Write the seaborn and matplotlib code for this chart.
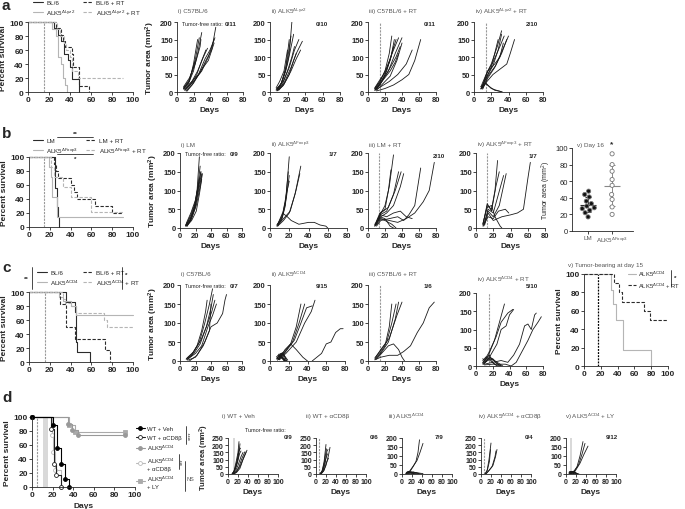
import pandas as pd
import matplotlib.pyplot as plt
from matplotlib.lines import Line2D
import seaborn as sns

# ---------------- survival curves (day, % survival) ----------------
a_bl6_t = [0, 25, 29, 31, 34, 38, 40, 42, 49]
a_bl6_s = [100, 91, 82, 73, 55, 46, 36, 18, 0]
a_alk_t = [0, 23, 27, 29, 31, 33, 35, 37]
a_alk_s = [100, 90, 80, 50, 40, 20, 10, 0]
a_bl6rt_t = [0, 27, 31, 33, 35, 42, 43, 49, 58]
a_bl6rt_s = [100, 91, 82, 73, 64, 55, 36, 9, 0]
a_alkrt_t = [0, 28, 30, 34, 36, 40, 42, 48, 90]
a_alkrt_s = [100, 90, 80, 70, 60, 50, 30, 20, 20]

b_lm_t = [0, 25, 27, 28, 29]
b_lm_s = [100, 56, 28, 14, 0]
b_alk_t = [0, 19, 21, 22, 27, 90]
b_alk_s = [100, 86, 71, 43, 14, 14]
b_lmrt_t = [0, 24, 26, 28, 40, 43, 46, 63, 80, 90]
b_lmrt_s = [100, 90, 80, 70, 60, 50, 40, 30, 20, 20]
b_alkrt_t = [0, 21, 24, 33, 40, 60, 90]
b_alkrt_s = [100, 86, 71, 57, 43, 22, 22]

c_bl6_t = [0, 36, 44, 45, 46, 59]
c_bl6_s = [100, 86, 71, 29, 14, 0]
c_alk_t = [0, 29, 33, 40, 45, 100]
c_alk_s = [100, 93, 87, 80, 67, 67]
c_bl6rt_t = [0, 30, 36, 44, 73, 78]
c_bl6rt_s = [100, 83, 50, 33, 17, 0]
c_alkrt_t = [0, 33, 35, 40, 45, 72, 75, 100]
c_alkrt_s = [100, 90, 85, 80, 70, 60, 50, 50]

cv_alk_t = [0, 32, 35, 38, 47, 80]
cv_alk_s = [100, 83, 67, 50, 17, 0]
cv_alkrt_t = [0, 36, 42, 45, 72, 78, 100]
cv_alkrt_s = [100, 90, 80, 70, 60, 50, 50]

d_veh_t = [0, 20, 24, 28, 32, 36]
d_veh_s = [100, 89, 56, 33, 11, 0]
d_cd8_t = [0, 18, 21, 23, 28]
d_cd8_s = [100, 83, 33, 17, 0]
d_alk_t = [0, 35, 39, 45, 90]
d_alk_s = [100, 90, 82, 75, 75]
d_alkcd8_t = [0, 19, 20, 22, 28]
d_alkcd8_s = [100, 75, 50, 25, 0]
d_ly_t = [0, 36, 42, 90]
d_ly_s = [100, 89, 78, 78]

# ---------------- tumour growth curves, one list of (day, mm2) per mouse ----------------
a1_curves = [
    [(8, 10), (15, 30), (20, 80), (25, 150)],
    [(8, 12), (15, 35), (22, 90), (27, 155)],
    [(8, 8), (14, 25), (20, 60), (25, 110), (30, 170)],
    [(8, 15), (15, 40), (22, 80), (28, 130), (29, 150)],
    [(9, 5), (16, 20), (24, 50), (30, 90), (35, 120)],
    [(9, 8), (18, 30), (25, 60), (32, 100), (37, 125)],
    [(10, 5), (20, 30), (30, 60), (38, 100), (45, 150)],
    [(10, 8), (20, 35), (28, 55), (35, 90), (42, 120), (47, 185)],
    [(11, 3), (18, 20), (26, 50), (34, 95), (40, 120), (46, 155)],
    [(12, 2), (20, 25), (30, 65), (38, 90), (45, 140)],
    [(8, 10), (14, 28), (20, 70), (22, 90)],
]
a2_curves = [
    [(7, 8), (12, 20), (18, 60), (22, 110), (25, 200)],
    [(7, 5), (12, 18), (17, 55), (21, 110), (24, 160)],
    [(8, 10), (13, 25), (18, 70), (22, 150)],
    [(8, 6), (14, 30), (20, 80), (25, 140), (27, 165)],
    [(8, 4), (14, 20), (20, 60), (25, 100), (28, 130)],
    [(9, 8), (15, 30), (22, 70), (28, 120), (33, 150)],
    [(9, 5), (16, 25), (24, 70), (30, 110), (37, 145)],
    [(7, 12), (11, 30), (16, 60), (20, 120)],
    [(8, 3), (15, 18), (22, 50), (27, 90), (30, 110)],
    [(10, 5), (16, 22), (24, 60), (30, 95), (35, 120)],
]
a3_curves = [
    [(8, 10), (14, 30), (20, 60), (25, 110), (28, 160)],
    [(8, 8), (14, 25), (20, 50), (27, 100), (31, 150)],
    [(8, 5), (14, 20), (22, 60), (28, 110), (33, 150)],
    [(8, 10), (14, 30), (22, 70), (30, 120), (36, 155)],
    [(9, 6), (15, 25), (24, 60), (32, 110), (40, 155)],
    [(9, 8), (16, 30), (25, 65), (33, 100), (38, 130)],
    [(10, 5), (16, 20), (26, 45), (34, 90), (40, 140)],
    [(10, 10), (18, 35), (26, 60), (32, 85), (36, 110)],
    [(8, 5), (15, 15), (25, 30), (35, 50), (45, 80), (52, 120)],
    [(10, 3), (20, 10), (30, 20), (40, 35), (48, 50), (55, 90), (62, 150)],
    [(8, 12), (14, 35), (20, 55), (26, 90), (30, 130)],
]
a4_curves = [
    [(8, 10), (14, 40), (20, 70), (25, 120), (28, 150)],
    [(8, 15), (14, 50), (20, 80), (27, 130), (32, 175)],
    [(9, 10), (15, 45), (22, 75), (28, 120), (32, 165)],
    [(9, 12), (15, 55), (22, 85), (30, 130), (35, 160)],
    [(10, 8), (16, 40), (24, 70), (32, 110), (38, 150)],
    [(10, 10), (16, 45), (25, 75), (33, 120), (40, 160)],
    [(8, 8), (15, 30), (22, 50), (30, 65), (38, 80), (42, 110), (47, 150)],
    [(9, 12), (16, 60), (24, 80), (30, 100), (34, 140)],
    [(8, 10), (14, 25), (20, 10), (26, 5), (33, 0)],
    [(8, 15), (13, 25), (18, 15), (24, 5), (30, 2), (32, 0)],
]
b1_curves = [
    [(7, 5), (12, 15), (18, 50), (22, 100), (25, 190)],
    [(7, 8), (13, 20), (19, 55), (23, 110), (26, 165)],
    [(8, 5), (14, 20), (20, 60), (24, 115), (27, 150)],
    [(8, 10), (14, 30), (20, 65), (25, 120), (28, 145)],
    [(7, 6), (13, 22), (19, 50), (24, 100), (28, 140)],
    [(8, 8), (14, 35), (20, 70), (25, 130), (27, 150)],
    [(9, 4), (15, 25), (21, 60), (26, 110), (29, 145)],
    [(8, 12), (14, 40), (20, 75), (24, 120)],
    [(9, 6), (15, 20), (21, 45), (25, 90), (28, 130)],
]
b2_curves = [
    [(7, 5), (12, 20), (16, 60), (20, 190)],
    [(7, 8), (12, 25), (16, 70), (19, 150)],
    [(8, 5), (13, 30), (17, 80), (20, 140)],
    [(8, 10), (13, 35), (17, 90), (20, 125)],
    [(8, 5), (14, 20), (20, 40), (26, 90), (32, 165)],
    [(8, 8), (14, 25), (21, 45), (27, 100), (31, 145)],
    [(8, 10), (13, 40), (18, 30), (22, 20), (30, 10), (40, 15), (46, 15), (52, 8), (58, 5), (60, 0)],
]
b3_curves = [
    [(8, 5), (13, 30), (20, 60), (25, 110), (30, 195)],
    [(8, 8), (14, 40), (20, 50), (24, 100), (27, 155)],
    [(8, 5), (14, 35), (22, 45), (30, 90), (36, 150)],
    [(9, 10), (15, 40), (24, 55), (32, 100), (39, 150)],
    [(9, 8), (15, 30), (22, 40), (30, 60), (38, 110), (42, 145)],
    [(8, 10), (14, 25), (20, 20), (28, 10), (33, 0)],
    [(9, 6), (14, 30), (20, 25), (26, 5), (30, 0)],
    [(10, 5), (15, 20), (25, 25), (35, 30), (42, 20), (48, 35), (55, 60), (62, 160)],
    [(10, 8), (15, 25), (25, 20), (35, 15), (45, 25), (55, 40), (65, 70), (72, 100), (78, 175)],
    [(9, 10), (15, 35), (22, 30), (30, 40), (38, 45), (45, 30), (52, 25)],
]
b4_curves = [
    [(8, 10), (13, 60), (18, 50), (22, 100), (25, 180)],
    [(8, 8), (13, 65), (18, 45), (23, 110), (27, 150)],
    [(9, 5), (14, 50), (20, 40), (26, 90), (32, 140)],
    [(9, 10), (14, 45), (20, 30), (27, 60), (35, 145)],
    [(8, 12), (13, 55), (18, 60), (22, 30), (28, 5), (30, 0)],
    [(10, 8), (14, 40), (20, 20), (30, 30), (40, 35), (48, 40), (55, 50), (60, 130), (63, 175)],
    [(8, 5), (14, 30), (20, 25), (26, 45), (34, 50), (38, 40)],
]
c1_curves = [
    [(8, 5), (15, 15), (22, 40), (28, 80), (33, 130), (35, 160)],
    [(8, 5), (16, 20), (25, 50), (32, 100), (38, 150), (42, 190)],
    [(9, 3), (18, 20), (26, 45), (34, 90), (40, 140), (43, 175)],
    [(9, 8), (18, 25), (27, 55), (35, 95), (41, 130), (45, 160)],
    [(10, 5), (20, 20), (28, 40), (36, 90), (42, 120), (47, 150)],
    [(10, 2), (20, 10), (30, 40), (38, 80), (40, 150)],
    [(12, 0), (22, 15), (32, 50), (40, 90), (48, 100), (55, 125), (58, 160), (60, 175)],
]
c2_curves = [
    [(8, 5), (15, 20), (22, 45), (28, 90), (33, 150)],
    [(8, 8), (15, 25), (24, 50), (31, 100), (37, 150)],
    [(9, 6), (16, 22), (26, 55), (33, 100), (39, 140), (45, 145)],
    [(9, 4), (17, 20), (28, 50), (37, 100), (44, 130), (48, 160)],
    [(10, 5), (16, 30), (22, 45), (28, 30), (35, 10), (40, 0)],
    [(45, 0), (50, 10), (55, 20), (60, 45), (65, 50), (70, 75), (75, 85), (78, 85)],
    [(7, 5), (10, 15), (13, 10), (16, 0)],
    [(8, 10), (11, 20), (14, 5), (17, 0)],
    [(7, 8), (10, 5), (13, 18), (16, 3)],
    [(8, 15), (12, 10), (15, 0)],
    [(9, 5), (12, 20), (15, 15), (18, 0)],
    [(7, 12), (10, 3), (13, 10), (16, 0)],
    [(8, 2), (11, 12), (14, 20), (17, 5)],
    [(9, 18), (12, 8), (15, 5), (18, 0)],
    [(10, 10), (13, 22), (16, 12), (19, 2)],
]
c3_curves = [
    [(8, 5), (14, 20), (20, 40), (25, 90), (28, 150)],
    [(8, 8), (14, 25), (22, 50), (28, 100), (33, 150)],
    [(9, 5), (15, 20), (24, 50), (32, 110), (36, 155)],
    [(9, 10), (15, 30), (25, 60), (34, 120), (40, 155)],
    [(10, 5), (16, 20), (24, 40), (30, 45), (36, 30), (40, 10), (43, 0)],
    [(8, 3), (15, 10), (25, 15), (35, 15), (42, 25), (50, 40), (58, 75), (65, 100), (72, 140), (78, 155)],
]
c4_curves = [
    [(8, 5), (15, 30), (22, 70), (28, 120), (34, 170)],
    [(8, 8), (15, 35), (24, 80), (30, 120), (38, 145), (44, 155)],
    [(9, 5), (15, 20), (25, 60), (30, 100), (36, 110), (40, 140), (45, 155)],
    [(10, 5), (20, 10), (30, 15), (38, 10), (45, 30), (52, 60), (58, 110), (62, 115), (66, 100), (70, 140), (72, 145)],
    [(10, 3), (20, 5), (35, 5), (42, 0), (48, 10), (55, 40), (62, 70), (68, 100), (74, 120), (78, 135)],
    [(8, 10), (12, 20), (16, 30), (20, 10), (25, 0)],
    [(8, 15), (12, 25), (17, 15), (22, 5), (28, 0)],
    [(9, 5), (13, 18), (18, 22), (24, 8), (30, 0)],
    [(8, 20), (12, 12), (16, 25), (22, 15), (32, 0)],
    [(10, 8), (14, 15), (20, 20), (26, 5), (30, 0)],
]
d1_curves = [
    [(8, 0), (12, 20), (16, 80), (20, 150), (22, 225)],
    [(8, 0), (12, 15), (17, 60), (21, 120), (24, 210)],
    [(9, 0), (13, 25), (18, 90), (22, 160), (25, 180)],
    [(9, 2), (14, 30), (19, 80), (23, 140), (26, 160)],
    [(10, 0), (15, 20), (20, 60), (26, 120), (30, 150)],
    [(10, 0), (16, 15), (22, 50), (28, 110), (34, 155)],
    [(11, 0), (17, 10), (24, 40), (30, 100), (38, 165)],
    [(10, 5), (15, 40), (19, 100), (22, 175)],
    [(12, 0), (18, 20), (25, 60), (32, 120), (36, 150)],
]
d2_curves = [
    [(8, 0), (12, 20), (16, 80), (20, 205)],
    [(8, 0), (13, 25), (17, 90), (21, 175)],
    [(9, 0), (14, 20), (18, 70), (22, 160), (24, 170)],
    [(9, 0), (14, 30), (19, 100), (23, 140)],
    [(10, 0), (15, 20), (20, 60), (25, 130), (28, 185)],
    [(10, 0), (16, 25), (21, 80), (25, 110)],
]
d3_curves = [
    [(8, 0), (15, 10), (22, 40), (28, 70), (32, 120), (35, 190)],
    [(8, 0), (15, 15), (24, 50), (30, 75), (36, 120), (42, 170)],
    [(8, 5), (12, 10), (16, 5), (22, 0)],
    [(8, 2), (14, 12), (20, 8), (26, 3), (30, 0)],
    [(10, 8), (15, 15), (20, 5), (25, 0)],
    [(9, 10), (14, 5), (19, 12), (24, 2)],
    [(8, 3), (12, 15), (18, 10), (24, 5), (28, 8), (35, 5), (42, 2)],
    [(10, 5), (16, 8), (22, 12), (28, 6), (34, 3)],
    [(12, 2), (18, 6), (24, 10), (30, 4), (38, 0)],
]
d4_curves = [
    [(8, 0), (12, 20), (16, 100), (20, 215)],
    [(8, 0), (13, 30), (17, 90), (19, 170)],
    [(9, 0), (15, 20), (22, 50), (28, 120), (30, 160)],
    [(10, 0), (16, 25), (24, 60), (29, 120), (32, 170)],
]
d5_curves = [
    [(8, 0), (15, 10), (22, 40), (28, 100), (34, 180)],
    [(8, 2), (16, 15), (25, 50), (32, 110), (38, 170)],
    [(9, 0), (18, 15), (28, 60), (36, 110), (44, 155)],
    [(6, 5), (9, 12), (12, 8), (15, 2)],
    [(6, 10), (9, 5), (12, 15), (16, 0)],
    [(7, 8), (10, 15), (13, 5), (18, 0)],
    [(7, 3), (10, 10), (14, 12), (20, 2)],
    [(8, 12), (11, 6), (15, 10), (20, 5), (24, 0)],
    [(6, 2), (10, 8), (14, 4), (17, 0)],
    [(8, 6), (12, 14), (16, 6), (22, 3), (26, 0)],
    [(9, 4), (13, 9), (17, 12), (21, 4)],
    [(7, 14), (11, 10), (15, 16), (19, 6), (23, 0)],
]

# day-16 tumour size, panel b v
day16_lm = [48, 44, 41, 36, 33, 30, 28, 27, 25, 22, 17]
day16_alk = [93, 80, 72, 62, 55, 44, 38, 29, 20]

# ---------------- style ----------------
sns.set_style("ticks")
plt.rcParams['font.family'] = ['Liberation Sans', 'DejaVu Sans']
plt.rcParams['mathtext.default'] = 'regular'
plt.rcParams['axes.linewidth'] = 0.6
plt.rcParams['xtick.major.width'] = 0.6
plt.rcParams['ytick.major.width'] = 0.6

DARK = '#2b2b2b'
LIGHT = '#b5b5b5'
GREYTXT = '#555555'
DASH = (0, (3, 1.5))

W, H = 685, 510
fig = plt.figure(figsize=(6.85, 5.10), dpi=100)


def add_ax(x0, y0, x1, y1):
    return fig.add_axes([x0 / W, 1 - y1 / H, (x1 - x0) / W, (y1 - y0) / H])


def ftext(x, y, s, **kw):
    kw.setdefault('va', 'center')
    kw.setdefault('fontsize', 4.5)
    fig.text(x / W, 1 - y / H, s, **kw)


def fline(xs, ys, **kw):
    fig.add_artist(Line2D([x / W for x in xs], [1 - y / H for y in ys],
                          transform=fig.transFigure, color='k', lw=0.5, **kw))


def style(ax, xticks, yticks, fs=5.5):
    ax.set_xticks(xticks)
    ax.set_yticks(yticks)
    ax.set_xlim(xticks[0], xticks[-1])
    ax.set_ylim(yticks[0], yticks[-1])
    sns.despine(ax=ax)
    ax.tick_params(labelsize=fs, length=2, pad=1)
    for t in ax.get_xticklabels() + ax.get_yticklabels():
        t.set_fontweight('bold')
    ax.set_xlabel('')
    ax.set_ylabel('')


def km(ax, t, s, color, ls='-', label=None, **kw):
    sns.lineplot(x=t, y=s, drawstyle='steps-post', color=color, linestyle=ls,
                 lw=0.8, ax=ax, label=label, estimator=None, clip_on=False, **kw)


def spaghetti(ax, curves):
    rows = [(i, d, a) for i, c in enumerate(curves) for d, a in c]
    df = pd.DataFrame(rows, columns=['mouse', 'day', 'area'])
    sns.lineplot(data=df, x='day', y='area', units='mouse', estimator=None,
                 sort=False, color='#1a1a1a', lw=0.6, ax=ax, legend=False)


def tumour(box, curves, title, ratio, ratio_xy, title_xy, rt=None, band=None,
           xt=(0, 20, 40, 60, 80), yt=(0, 50, 100, 150, 200), fs=5.5, ylab=False,
           ylab_fs=6, ylab_pad=2):
    ax = add_ax(*box)
    if band is not None:
        ax.axvspan(band[0], band[1], color='#d9d9d9', lw=0)
    if rt is not None:
        ax.axvline(rt, color='#999999', ls=(0, (2, 1)), lw=0.8)
    spaghetti(ax, curves)
    style(ax, list(xt), list(yt), fs)
    ax.set_xlabel('Days', fontsize=6, fontweight='bold', labelpad=2)
    if ylab:
        ax.set_ylabel('Tumor area (mm$^2$)', fontsize=ylab_fs, fontweight='bold', labelpad=ylab_pad)
    ftext(title_xy[0], title_xy[1], title, color=GREYTXT, ha='left')
    ftext(ratio_xy[0], ratio_xy[1], ratio, fontweight='bold', ha='right')
    return ax


def surv_legend(ax, handles, labels, x, y, colsp=1.2):
    ax.legend(handles, labels, ncol=2, loc='upper left', bbox_to_anchor=(x / W, 1 - y / H),
              bbox_transform=fig.transFigure, frameon=False, fontsize=4.5,
              handlelength=1.6, columnspacing=colsp, labelspacing=0.35, borderaxespad=0,
              handletextpad=0.5, borderpad=0)


# ================= row a =================
ax = add_ax(28, 23, 133, 93)
ax.axvline(15, color='#999999', ls=(0, (2, 1)), lw=0.8)
km(ax, a_bl6_t, a_bl6_s, DARK, '-', 'BL/6')
km(ax, a_alk_t, a_alk_s, LIGHT, '-', 'ALK5$^{ΔLyz2}$')
km(ax, a_bl6rt_t, a_bl6rt_s, DARK, DASH, 'BL/6 + RT')
km(ax, a_alkrt_t, a_alkrt_s, LIGHT, DASH, 'ALK5$^{ΔLyz2}$ + RT')
style(ax, [0, 20, 40, 60, 80, 100], [0, 20, 40, 60, 80, 100], 6)
ax.set_ylabel('Percent survival', fontsize=6, fontweight='bold', labelpad=2)
h, l = ax.get_legend_handles_labels()
surv_legend(ax, h, l, 33, 1)

lyz = 'ALK5$^{ΔLyz2}$'
tumour((177, 23, 243, 93), a1_curves, 'i) C57BL/6', '0/11', (237, 24), (178, 12), ylab=True)
ftext(182, 24, 'Tumor-free ratio:', ha='left', fontsize=4)
tumour((270, 23, 340, 93), a2_curves, 'ii) ' + lyz, '0/10', (328, 24), (271, 12))
tumour((368, 23, 436, 93), a3_curves, 'iii) C57BL/6 + RT', '0/11', (436, 24), (369, 12), rt=14)
tumour((474, 23, 543, 93), a4_curves, 'iv) ' + lyz + ' + RT', '2/10', (538, 24), (475, 12), rt=14)

# ================= row b =================
fox = 'ALK5$^{ΔFoxp3}$'
ax = add_ax(29, 158, 133, 228)
ax.axvline(14, color='#999999', ls=(0, (2, 1)), lw=0.8)
km(ax, b_lm_t, b_lm_s, DARK, '-', 'LM')
km(ax, b_alk_t, b_alk_s, LIGHT, '-', fox)
km(ax, b_lmrt_t, b_lmrt_s, DARK, DASH, 'LM + RT')
km(ax, b_alkrt_t, b_alkrt_s, LIGHT, DASH, fox + ' + RT')
style(ax, [0, 20, 40, 60, 80, 100], [0, 20, 40, 60, 80, 100], 6)
ax.set_ylabel('Percent survival', fontsize=6, fontweight='bold', labelpad=2)
h, l = ax.get_legend_handles_labels()
surv_legend(ax, h, l, 33, 139)
fline([57, 93], [138, 138])
ftext(75, 134, '**', ha='center', fontweight='bold')
fline([57, 93], [155, 155])
ftext(75, 159, '*', ha='center', fontweight='bold')

tumour((180, 154, 242, 229), b1_curves, 'i) LM', '0/9', (238, 155), (181, 145), ylab=True)
ftext(185, 155, 'Tumor-free ratio:', ha='left', fontsize=4)
tumour((270, 154, 347, 229), b2_curves, 'ii) ' + fox, '1/7', (337, 155), (271, 145))
tumour((368, 154, 436, 229), b3_curves, 'iii) LM + RT', '2/10', (445, 157), (369, 145), rt=13)
tumour((476, 154, 545, 229), b4_curves, 'iv) ' + fox + ' + RT', '1/7', (537, 157), (477, 145), rt=13)

# b v: day 16 scatter
ax = add_ax(572, 149, 633, 232)
df16 = pd.DataFrame({'grp': ['LM'] * len(day16_lm) + ['ALK5'] * len(day16_alk),
                     'area': day16_lm + day16_alk})
sns.swarmplot(data=df16, x='grp', y='area', hue='grp', order=['LM', 'ALK5'],
              palette={'LM': '#111111', 'ALK5': 'white'}, edgecolor='#777777',
              linewidth=0.6, size=3, ax=ax, legend=False)
for i, vals in enumerate([day16_lm, day16_alk]):
    s = pd.Series(vals)
    m, sd = s.mean(), s.std()
    ax.hlines(m, i - 0.32, i + 0.32, color=DARK if i == 0 else '#888888', lw=0.8)
    ax.errorbar(i, m, yerr=sd, color=DARK if i == 0 else '#888888', lw=0.7, capsize=2, capthick=0.7)
ax.set_yticks([0, 20, 40, 60, 80, 100])
ax.set_ylim(0, 100)
ax.set_xlim(-0.67, 1.87)
sns.despine(ax=ax)
ax.tick_params(labelsize=5.5, length=2, pad=1)
ax.set_xticks([0, 1])
ax.set_xticklabels(['LM', fox], fontsize=4.5, color=GREYTXT)
ax.set_xlabel('')
ax.set_ylabel('Tumor area (mm$^2$)', fontsize=5, labelpad=2)
ftext(577, 145, 'v) Day 16', color=GREYTXT, ha='left')
ftext(612, 145, '*', ha='center', fontweight='bold', fontsize=6)

# ================= row c =================
cd4 = 'ALK5$^{ΔCD4}$'
ax = add_ax(29, 293, 133, 363)
ax.axvline(15, color='#999999', ls=(0, (2, 1)), lw=0.8)
km(ax, c_bl6_t, c_bl6_s, DARK, '-', 'BL/6')
km(ax, c_alk_t, c_alk_s, LIGHT, '-', cd4)
km(ax, c_bl6rt_t, c_bl6rt_s, DARK, DASH, 'BL/6 + RT')
km(ax, c_alkrt_t, c_alkrt_s, LIGHT, DASH, cd4 + ' + RT')
style(ax, [0, 20, 40, 60, 80, 100], [0, 20, 40, 60, 80, 100], 6)
ax.set_ylabel('Percent survival', fontsize=6, fontweight='bold', labelpad=2)
h, l = ax.get_legend_handles_labels()
surv_legend(ax, h, l, 37, 271, colsp=0.6)
fline([32, 32], [268, 290])
ftext(26, 279, '**', ha='center', fontweight='bold')
fline([122, 122], [268, 290])
ftext(126, 275, '*', ha='center', fontweight='bold')

tumour((180, 286, 242, 362), c1_curves, 'i) C57BL/6', '0/7', (239, 286), (181, 275), ylab=True)
ftext(185, 286, 'Tumor-free ratio:', ha='left', fontsize=4)
tumour((270, 286, 345, 362), c2_curves, 'ii) ' + cd4, '9/15', (328, 286), (271, 275))
tumour((368, 286, 436, 362), c3_curves, 'iii) C57BL/6 + RT', '1/6', (432, 287), (369, 275), rt=14)
tumour((476, 294, 543, 367), c4_curves, 'iv) ' + cd4 + ' + RT', '5/10', (538, 287), (477, 280), rt=15)

# c v: survival of tumour-bearing mice
ax = add_ax(584, 275, 668, 367)
ax.axvline(17, color='k', ls=(0, (1.5, 1)), lw=0.9)
km(ax, cv_alk_t, cv_alk_s, LIGHT, '-', cd4)
km(ax, cv_alkrt_t, cv_alkrt_s, DARK, DASH, cd4 + ' + RT')
style(ax, [0, 20, 40, 60, 80, 100], [0, 20, 40, 60, 80, 100], 6)
ax.set_ylabel('Percent survival', fontsize=6, fontweight='bold', labelpad=2)
h, l = ax.get_legend_handles_labels()
ax.legend(h, l, loc='upper left', bbox_to_anchor=(628 / W, 1 - 270 / H), bbox_transform=fig.transFigure,
          frameon=False, fontsize=4.2, handlelength=1.4, labelspacing=0.35, borderaxespad=0,
          handletextpad=0.4, borderpad=0)
fline([671, 671], [271, 287])
ftext(675, 278, '*', ha='center', fontweight='bold')
ftext(568, 265, 'v) Tumor-bearing at day 15', color=GREYTXT, ha='left')

# ================= row d =================
ax = add_ax(32, 418, 135, 488)
ax.axvspan(11, 16, color='#d9d9d9', lw=0)
ax.axvline(5, color='#999999', ls=(0, (2, 1)), lw=0.8)
groups_d = [
    (d_ly_t, d_ly_s, '#aaaaaa', '#aaaaaa', 's', cd4 + '\n+ LY'),
    (d_alk_t, d_alk_s, '#999999', '#999999', 'o', cd4),
    (d_alkcd8_t, d_alkcd8_s, '#bbbbbb', 'white', 'o', cd4 + '\n+ αCD8β'),
    (d_cd8_t, d_cd8_s, '#222222', 'white', 'o', 'WT + αCD8β'),
    (d_veh_t, d_veh_s, '#000000', '#000000', 'o', 'WT + Veh'),
]
for t, s, c, mfc, mk, lab in groups_d:
    km(ax, t, s, c, '-', lab, marker=mk, markersize=2.8, markerfacecolor=mfc,
       markeredgecolor=c, markeredgewidth=0.6)
style(ax, [0, 20, 40, 60, 80, 100], [0, 20, 40, 60, 80, 100], 6)
ax.set_ylabel('Percent survival', fontsize=6, fontweight='bold', labelpad=2)
ax.set_xlabel('Days', fontsize=6, fontweight='bold', labelpad=3)
h, l = ax.get_legend_handles_labels()
order = [4, 3, 1, 2, 0]
ax.legend([h[i] for i in order], [l[i] for i in order], loc='upper left',
          bbox_to_anchor=(136 / W, 1 - 427 / H), bbox_transform=fig.transFigure,
          frameon=False, fontsize=4.3, handlelength=1.5, labelspacing=0.55,
          borderaxespad=0, handletextpad=0.3, borderpad=0)
fline([186, 186], [427, 445])
ftext(190, 436, '****', rotation=90, ha='center', fontsize=4)
fline([179, 179], [455, 470])
ftext(182, 462, '***', rotation=90, ha='center', fontsize=4)
fline([185, 185], [462, 492])
ftext(190, 480, 'NS', ha='center', color=GREYTXT, fontsize=4)

dyt250 = (0, 50, 100, 150, 200, 250)
dxt = (0, 20, 40, 60, 80, 100)
tumour((228, 439, 278, 475), d1_curves, 'i) WT + Veh', '0/9', (292, 438), (222, 417),
       band=(10, 14), xt=dxt, yt=dyt250, fs=5, ylab=True, ylab_fs=5.5, ylab_pad=1)
ftext(245, 431, 'Tumor-free ratio:', ha='left', fontsize=4)
tumour((316, 439, 366, 475), d2_curves, 'ii) WT + αCD8β', '0/6', (378, 438), (306, 417),
       rt=5, xt=dxt, yt=dyt250, fs=5)
tumour((402, 439, 452, 475), d3_curves, 'iii) ' + cd4, '7/9', (443, 438), (388, 417),
       xt=dxt, yt=(0, 50, 100, 150, 200), fs=5)
tumour((481, 439, 531, 475), d4_curves, 'iv) ' + cd4 + ' + αCD8β', '0/4', (533, 438), (478, 417),
       rt=5, xt=dxt, yt=dyt250, fs=5)
tumour((566, 439, 616, 475), d5_curves, 'v) ' + cd4 + ' + LY', '9/12', (618, 438), (565, 417),
       band=(7, 11), xt=dxt, yt=(0, 50, 100, 150, 200), fs=5)

# panel letters
for letter, y in [('a', 6), ('b', 134), ('c', 268), ('d', 398)]:
    ftext(2, y, letter, fontsize=11, fontweight='bold', ha='left')

fig.savefig('out.png', dpi=100)
